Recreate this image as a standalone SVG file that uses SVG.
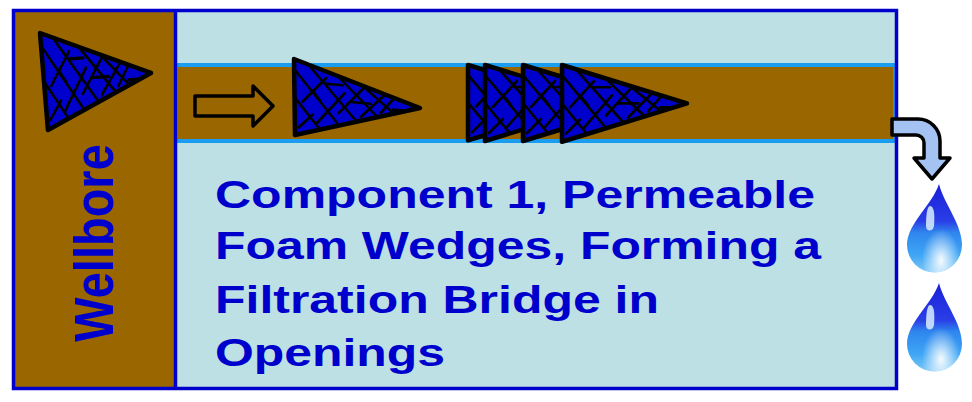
<svg xmlns="http://www.w3.org/2000/svg" xmlns:xlink="http://www.w3.org/1999/xlink" width="972" height="402" viewBox="0 0 972 402">
  <style>
    .frame { fill: none; stroke: #0000cc; stroke-width: 3.5; }
    .brown { fill: #996600; }
    .pore { fill: #bde0e4; }
    .wedge-fill { fill: #0000cc; }
    .wedge-edge { fill: none; stroke: #000; stroke-width: 4.5; stroke-linejoin: round; vector-effect: non-scaling-stroke; }
    .hatch { fill: none; stroke: #000; stroke-width: 2.6; stroke-linecap: round; vector-effect: non-scaling-stroke; }
    .label { font-family: "Liberation Sans", Arial, Helvetica, sans-serif; font-weight: bold; fill: #0000cc; }
    .outline-arrow { stroke: #000; stroke-width: 3.5; stroke-linejoin: round; }
  </style>
  <defs>
    <!-- unit wedge: tip pointing right -->
    <clipPath id="wedgeClip">
      <path d="M0,0 L125,38 L0,76 Z"/>
    </clipPath>
    <g id="wedge">
      <path class="wedge-fill" d="M0,0 L125,38 L0,76 Z"/>
      <g clip-path="url(#wedgeClip)" class="hatch">
        <path d="M0,10 L42,60"/>
        <path d="M12,2 L66,62"/>
        <path d="M38,8 L88,56"/>
        <path d="M62,16 L104,50"/>
        <path d="M0,38 L28,72"/>
        <path d="M8,42 L32,16"/>
        <path d="M22,62 L50,30"/>
        <path d="M44,50 L70,22"/>
        <path d="M66,52 L90,28"/>
        <path d="M86,46 L100,30"/>
        <path d="M4,68 L18,54"/>
        <path d="M30,22 L48,22"/>
        <path d="M56,38 L76,38"/>
        <path d="M18,30 L26,40"/>
        <path d="M98,42 L110,42"/>
      </g>
      <path class="wedge-edge" d="M0,0 L125,38 L0,76 Z"/>
    </g>
    <linearGradient id="dropFill" x1="0" y1="0" x2="0" y2="1">
      <stop offset="0" stop-color="#1a1fd8"/>
      <stop offset="0.42" stop-color="#2a3ee6"/>
      <stop offset="0.55" stop-color="#2f86ee"/>
      <stop offset="0.8" stop-color="#3ea6f4"/>
      <stop offset="1" stop-color="#7cc8f8"/>
    </linearGradient>
    <radialGradient id="dropShine" cx="0.62" cy="0.86" r="0.35">
      <stop offset="0" stop-color="#ffffff" stop-opacity="0.95"/>
      <stop offset="1" stop-color="#ffffff" stop-opacity="0"/>
    </radialGradient>
    <g id="drop">
      <path d="M939,184 C944,204 962,224 962,245 A27.5,27.5 0 0 1 907,245 C907,224 932,205 939,184 Z" fill="url(#dropFill)"/>
      <path d="M939,184 C944,204 962,224 962,245 A27.5,27.5 0 0 1 907,245 C907,224 932,205 939,184 Z" fill="url(#dropShine)"/>
      <path d="M930,206 C934,206 935,214 934,226 C933,232 926,232 926,226 C926,216 927,206 930,206 Z" fill="#cfe6fb" opacity="0.9"/>
    </g>
  </defs>

  <!-- formation / pore space -->
  <g id="formation">
    <rect class="pore" x="175" y="11" width="722" height="378"/>
  </g>

  <!-- opening (fracture channel) -->
  <g id="opening">
    <rect class="brown" x="176" y="65" width="719" height="76" stroke="#1a9cf0" stroke-width="4"/>
  </g>

  <!-- wellbore column -->
  <g id="wellbore">
    <rect class="brown" x="13" y="10" width="162" height="379"/>
    <text class="label" font-size="47" text-anchor="middle" transform="translate(113 243) scale(1.2 1) rotate(-90)">Wellbore</text>
  </g>

  <!-- outer border and divider -->
  <g id="frame">
    <rect class="frame" x="13.5" y="10.5" width="883" height="378"/>
    <line x1="175.5" y1="10" x2="175.5" y2="389" stroke="#0000cc" stroke-width="3.5"/>
  </g>

  <!-- foam wedges -->
  <g id="wedge-wellbore">
    <use xlink:href="#wedge" transform="matrix(0.856 -0.068 0.105 1.276 40 33)"/>
  </g>
  <g id="wedge-moving">
    <use xlink:href="#wedge" transform="matrix(1.004 0.088 0.013 1 294 59)"/>
  </g>
  <g id="wedge-stack-1">
    <use xlink:href="#wedge" transform="translate(468 65) scale(1 0.99)"/>
  </g>
  <g id="wedge-stack-2">
    <use xlink:href="#wedge" transform="translate(485 65)"/>
  </g>
  <g id="wedge-stack-3">
    <use xlink:href="#wedge" transform="translate(523 65)"/>
  </g>
  <g id="wedge-stack-4">
    <use xlink:href="#wedge" transform="translate(562 65) scale(1 1.01)"/>
  </g>

  <!-- flow arrows -->
  <g id="connectors">
    <path class="outline-arrow" fill="none" d="M195,96 H253 V86 L273,106 L253,126 V116 H195 Z"/>
    <path class="outline-arrow" fill="#a4c2f2" d="M892,119 H918 A22,22 0 0 1 940,141 V158 H950 L932,179 L914,158 H924 V143 A8,8 0 0 0 916,135 H892 Z"/>
  </g>

  <!-- filtrate drops -->
  <g id="drop-1">
    <use xlink:href="#drop"/>
  </g>
  <g id="drop-2">
    <use xlink:href="#drop" transform="translate(0 99)"/>
  </g>

  <!-- caption -->
  <g id="caption" class="label" font-size="39">
    <text x="215" y="208" textLength="600" lengthAdjust="spacingAndGlyphs">Component 1, Permeable</text>
    <text x="215" y="259" textLength="606" lengthAdjust="spacingAndGlyphs">Foam Wedges, Forming a</text>
    <text x="215" y="313" textLength="444" lengthAdjust="spacingAndGlyphs">Filtration Bridge in</text>
    <text x="215" y="366" textLength="230" lengthAdjust="spacingAndGlyphs">Openings</text>
  </g>
</svg>
